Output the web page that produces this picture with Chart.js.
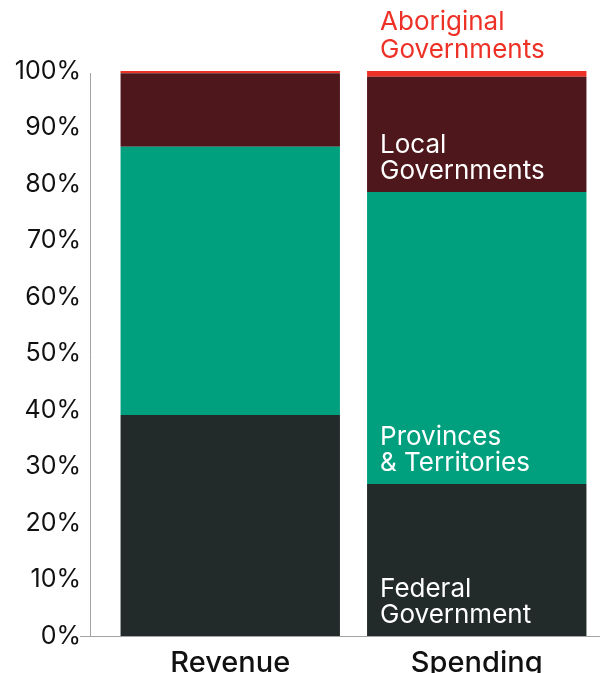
<!DOCTYPE html>
<html>
<head>
<meta charset="utf-8">
<script src="https://cdn.jsdelivr.net/npm/chart.js@4"></script>
<style>
  body { margin: 0; background: #fff; }
</style>
</head>
<body>
<canvas id="govChart" width="600" height="673"></canvas>
<script>
// share of total, by order of government (%)
const categories = ['Revenue', 'Spending'];
const federal = [39.1, 26.9];
const provinces = [47.5, 51.7];
const local = [13.0, 20.4];
const aboriginal = [0.4, 1.0];

const seriesNames = [
  ['Federal', 'Government'],
  ['Provinces', '& Territories'],
  ['Local', 'Governments'],
  ['Aboriginal', 'Governments']
];
const seriesColors = ['#232a2a', '#00a07f', '#4e171b', '#ee3126'];
const labelColors = ['#ffffff', '#ffffff', '#ffffff', '#ee3126'];

// axis lines sit a little left of the bars, and the series names go on the Spending bar
const govLabels = {
  id: 'govLabels',
  afterDatasetsDraw(chart) {
    const { ctx, chartArea: a } = chart;
    ctx.save();
    ctx.strokeStyle = '#a3a3a3';
    ctx.lineWidth = 1;
    ctx.beginPath();
    ctx.moveTo(a.left - 16.5, a.top + 2);
    ctx.lineTo(a.left - 16.5, a.bottom + 0.5);
    ctx.moveTo(a.left - 27, a.bottom + 0.5);
    ctx.lineTo(a.right, a.bottom + 0.5);
    ctx.stroke();

    ctx.font = '400 26px Inter';
    ctx.textAlign = 'left';
    ctx.textBaseline = 'middle';
    seriesNames.forEach((lines, i) => {
      const bar = chart.getDatasetMeta(i).data[1];
      const p = bar.getProps(['x', 'y', 'base', 'width'], true);
      const base = i === 3 ? p.y : p.base;
      const x = p.x - p.width / 2 + 13;
      const gap = i === 3 ? 28 : 26;
      ctx.fillStyle = labelColors[i];
      ctx.fillText(lines[0], x, base - 21 - gap);
      ctx.fillText(lines[1], x, base - 21);
    });
    ctx.restore();
  }
};

const datasets = [federal, provinces, local, aboriginal].map((data, i) => ({
  label: seriesNames[i].join(' '),
  data: data,
  backgroundColor: seriesColors[i],
  borderWidth: 0,
  categoryPercentage: 1,
  barPercentage: 0.89
}));

new Chart(document.getElementById('govChart'), {
  type: 'bar',
  data: {
    labels: categories,
    datasets: datasets
  },
  options: {
    responsive: false,
    animation: false,
    layout: { padding: { top: 71, right: 0, bottom: 0, left: 0 } },
    plugins: {
      legend: { display: false },
      tooltip: { enabled: false }
    },
    scales: {
      x: {
        stacked: true,
        grid: { display: false, drawTicks: false },
        border: { display: false },
        ticks: {
          color: '#111',
          padding: 10,
          font: { family: 'Inter', size: 29, weight: '500' }
        },
        afterFit(scale) { scale.height = 37; }
      },
      y: {
        stacked: true,
        min: 0,
        max: 100,
        grid: { display: false, drawTicks: false },
        border: { display: false },
        ticks: {
          stepSize: 10,
          padding: 26,
          color: '#111',
          font: { family: 'Inter', size: 25 },
          callback: v => v + '%'
        },
        afterFit(scale) {
          scale.width = 107;
          scale.paddingTop = 0;
          scale.paddingBottom = 0;
        }
      }
    }
  },
  plugins: [govLabels]
});
</script>
</body>
</html>
